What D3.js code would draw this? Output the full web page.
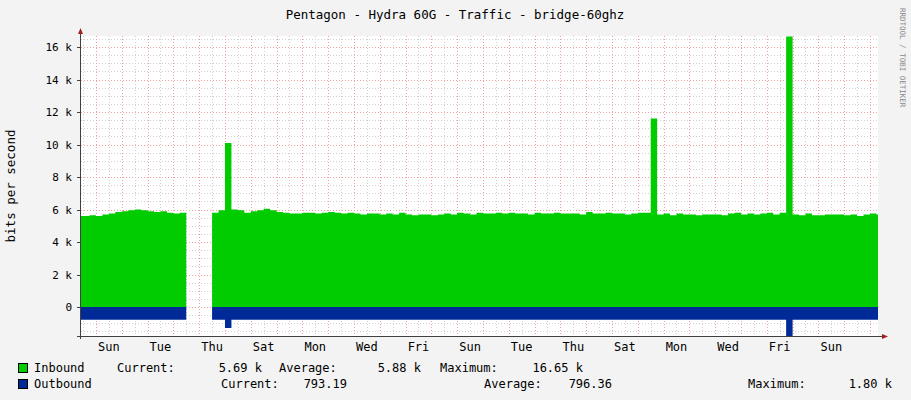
<!DOCTYPE html>
<html><head><meta charset="utf-8">
<script src="https://cdn.jsdelivr.net/npm/d3@7"></script>
<style>body{margin:0;background:#f3f3f3}text{font-family:"DejaVu Sans Mono",monospace;font-size:11px;fill:#000}</style>
</head><body><div id="chart"></div>
<script>
// samples every 6h, starting at day 0.5 (day 0 = Saturday)
var startDay = 0.5, step = 0.25;
var inbound = [5.6,5.65,5.6,5.7,5.75,5.85,5.9,5.95,6.0,5.95,5.9,5.85,5.9,5.8,5.75,5.8,5.75,
  null,null,null,
  5.8,5.95,10.1,6.0,5.95,5.8,5.9,5.95,6.05,5.95,5.85,5.8,5.75,5.75,5.8,5.8,5.75,5.8,5.85,5.8,
  5.75,5.8,5.75,5.7,5.75,5.75,5.7,5.75,5.7,5.8,5.7,5.65,5.7,5.7,5.65,5.7,5.75,5.7,5.8,5.75,
  5.7,5.8,5.75,5.75,5.8,5.75,5.8,5.75,5.75,5.7,5.8,5.75,5.75,5.8,5.75,5.75,5.75,5.7,5.85,5.75,
  5.75,5.8,5.75,5.75,5.7,5.75,5.8,5.8,11.6,5.7,5.75,5.65,5.75,5.7,5.7,5.65,5.7,5.7,5.7,5.65,
  5.75,5.8,5.7,5.75,5.7,5.75,5.8,5.7,5.8,16.65,5.7,5.65,5.75,5.65,5.65,5.7,5.7,5.7,5.65,5.7,
  5.6,5.7,5.75,5.69];
var outbound = inbound.map(function(v, i) {
  if (v === null) return null;
  if (i === 22) return 1.3;
  if (i === 109) return 1.8;
  return 0.79;
});
var dayNames = ["Sat","Sun","Mon","Tue","Wed","Thu","Fri"];
var yTicks = [0,2,4,6,8,10,12,14,16];
// [label, label x, value, value right edge]
var legendRows = [
  {name:"Inbound", color:"#00cc00", stats:[["Current:",117,"5.69 k",262],["Average:",279,"5.88 k",421],["Maximum:",440,"16.65 k",583]]},
  {name:"Outbound", color:"#002a97", stats:[["Current:",221,"793.19",347],["Average:",484,"796.36",612],["Maximum:",748,"1.80 k",892]]}
];

var svg = d3.select("#chart").append("svg").attr("width", 911).attr("height", 400);
svg.append("rect").attr("width", 911).attr("height", 400).attr("fill", "#f3f3f3");

var x = d3.scaleLinear().domain([0.42, 31.31]).range([81, 878]);
var y = d3.scaleLinear().domain([-1.785, 16.68]).range([336, 36]);

svg.append("rect").attr("x", 81).attr("y", 36).attr("width", 797).attr("height", 300).attr("fill", "#fff");

// grid
var g = svg.append("g");
d3.range(-1.5, 16.7, 0.5).forEach(function(v) {
  g.append("line").attr("x1", 81).attr("x2", 878).attr("y1", Math.round(y(v)) + 0.5).attr("y2", Math.round(y(v)) + 0.5)
    .attr("stroke", v % 2 === 0 ? "#f0a0a0" : "#d0d0d0").attr("stroke-dasharray", "1,2");
});
d3.range(0.5, 31.31, 0.5).forEach(function(d) {
  var major = d % 1 === 0;
  g.append("line").attr("y1", 36).attr("y2", 336).attr("x1", Math.round(x(d)) + 0.5).attr("x2", Math.round(x(d)) + 0.5)
    .attr("stroke", major ? "#f0a0a0" : "#d0d0d0").attr("stroke-dasharray", "1,2");
});

var data = inbound.map(function(v, i) { return {d: startDay + i * step, inb: v, out: outbound[i]}; });
data.push({d: 31.31, inb: inbound[inbound.length - 1], out: outbound[outbound.length - 1]});
data.unshift({d: 0.42, inb: inbound[0], out: outbound[0]});

svg.append("path").datum(data)
  .attr("fill", "#00cc00")
  .attr("d", d3.area().curve(d3.curveStepAfter).defined(function(p) { return p.inb !== null; })
    .x(function(p) { return x(p.d); }).y0(y(0)).y1(function(p) { return y(p.inb); }));
svg.append("path").datum(data)
  .attr("fill", "#002a97")
  .attr("d", d3.area().curve(d3.curveStepAfter).defined(function(p) { return p.out !== null; })
    .x(function(p) { return x(p.d); }).y0(y(0)).y1(function(p) { return y(-p.out); }));

// axes
svg.append("line").attr("x1", 80.5).attr("x2", 80.5).attr("y1", 32).attr("y2", 339).attr("stroke", "#404040");
svg.append("line").attr("x1", 77).attr("x2", 883).attr("y1", 336.5).attr("y2", 336.5).attr("stroke", "#404040");
svg.append("path").attr("d", "M78,34 L83,34 L80.5,28 Z").attr("fill", "#a02020");
svg.append("path").attr("d", "M882,334 L882,339 L888,336.5 Z").attr("fill", "#a02020");

yTicks.forEach(function(v) {
  svg.append("text").attr("x", 72).attr("y", y(v) + 4).attr("text-anchor", "end")
    .text(v === 0 ? "0" : v + " k");
  svg.append("line").attr("x1", 77).attr("x2", 81).attr("y1", Math.round(y(v)) + 0.5).attr("y2", Math.round(y(v)) + 0.5).attr("stroke", "#404040");
});
d3.range(1, 31, 2).forEach(function(d) {
  svg.append("text").attr("x", x(d + 0.5)).attr("y", 351).attr("text-anchor", "middle").style("font-size", "12px").text(dayNames[d % 7]);
});

svg.append("text").attr("x", 455).attr("y", 19).attr("text-anchor", "middle").style("font-size", "12.5px")
  .text("Pentagon - Hydra 60G - Traffic - bridge-60ghz");
svg.append("text").attr("transform", "translate(15,186) rotate(-90)").attr("text-anchor", "middle").style("font-size", "12.5px")
  .text("bits per second");
svg.append("text").attr("transform", "translate(900,8) rotate(90)").style("font-size", "7.5px").style("fill", "#888")
  .text("RRDTOOL / TOBI OETIKER");

legendRows.forEach(function(r, i) {
  var ly = 372 + i * 16;
  svg.append("rect").attr("x", 18.5).attr("y", ly - 8.5).attr("width", 9).attr("height", 9).attr("fill", r.color).attr("stroke", "#000");
  svg.append("text").attr("x", 34).attr("y", ly).style("font-size", "12px").text(r.name);
  r.stats.forEach(function(s) {
    svg.append("text").attr("x", s[1]).attr("y", ly).style("font-size", "12px").text(s[0]);
    svg.append("text").attr("x", s[3]).attr("y", ly).attr("text-anchor", "end").style("font-size", "12px").text(s[2]);
  });
});
</script></body></html>
